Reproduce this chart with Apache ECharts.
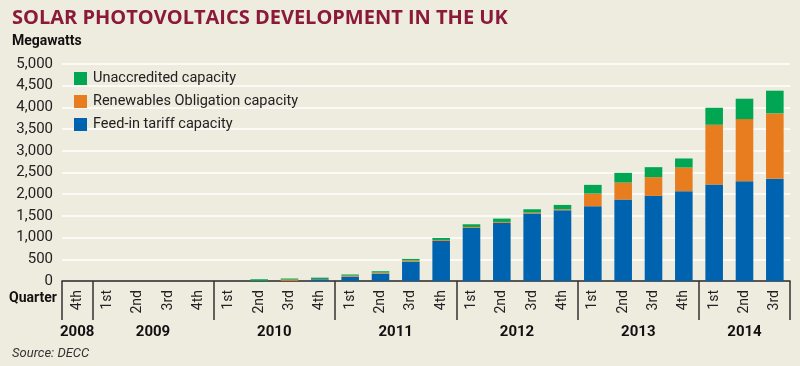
<!DOCTYPE html>
<html>
<head>
<meta charset="utf-8">
<script src="https://cdn.jsdelivr.net/npm/echarts@6/dist/echarts.min.js"></script>
<style>
html,body{margin:0;padding:0;background:#eeebdf;}
#c{width:800px;height:366px;}
</style>
</head>
<body>
<div id="c"></div>
<script>
// Quarter categories (2008 Q4 to 2014 Q3)
const quarterLabels = ['4th','1st','2nd','3rd','4th','1st','2nd','3rd','4th','1st','2nd','3rd','4th','1st','2nd','3rd','4th','1st','2nd','3rd','4th','1st','2nd','3rd'];
// Year groups: label and index of first quarter
const yearLabels = ['2008','2009','2010','2011','2012','2013','2014'];
const yearStartIndex = [0, 1, 5, 9, 13, 17, 21];
const yearLabelPos = [0.5, 3, 7, 11, 15, 19, 22.5];
// Megawatts
const feedInTariff = [0,0,0,0,0, 0,3,3,40, 100,170,445,923, 1223,1338,1553,1630, 1723,1877,1962,2069, 2223,2300,2354];
const renewablesObligation = [0,0,0,0,0, 0,2,30,7, 25,25,28,23, 23,23,24,23, 292,392,430,546, 1377,1430,1508];
const unaccredited = [0,0,0,0,0, 0,35,24,30, 25,30,35,46, 61,77,76,100, 200,223,231,208, 392,470,523];
const yTicks = {min:0, max:5000, interval:500};

const FONT = 'Roboto, "Noto Sans", sans-serif';
const chart = echarts.init(document.getElementById('c'), null, {renderer:'canvas'});
chart.setOption({
  backgroundColor:'#eeebdf',
  animation:false,
  textStyle:{fontFamily:FONT},
  grid:{left:62, right:10, top:64, bottom:85, containLabel:false},
  legend:{
    orient:'vertical', left:69, top:66, itemWidth:13, itemHeight:13, itemGap:8,
    icon:'rect',
    data:['Unaccredited capacity','Renewables Obligation capacity','Feed-in tariff capacity'],
    textStyle:{fontSize:14.5, color:'#222', fontFamily:FONT, padding:[0,0,0,1]}
  },
  xAxis:[{
    type:'category', data:quarterLabels, position:'bottom',
    axisLine:{lineStyle:{color:'#222', width:1.5}},
    axisTick:{show:true, length:39, interval:function(i){return yearStartIndex.indexOf(i) >= 0;}, lineStyle:{color:'#333', width:1.5}},
    axisLabel:{interval:0, rotate:90, margin:9, fontSize:14, color:'#222', fontFamily:FONT},
    splitLine:{show:false}
  },{
    type:'value', min:0, max:24, interval:0.5, position:'bottom',
    axisLine:{show:false}, axisTick:{show:false}, splitLine:{show:false},
    axisLabel:{margin:44, fontSize:15, fontWeight:'bold', color:'#111', fontFamily:FONT,
      formatter:function(v){const k = yearLabelPos.indexOf(v); return k>=0 ? yearLabels[k] : '';}}
  }],
  yAxis:{
    type:'value', min:yTicks.min, max:yTicks.max, interval:yTicks.interval,
    axisLine:{show:false}, axisTick:{show:false},
    axisLabel:{fontSize:15, color:'#222', margin:9, fontFamily:FONT},
    splitLine:{lineStyle:{color:'#ffffff', width:1.5}}
  },
  series:[
    {name:'Feed-in tariff capacity', type:'bar', stack:'t', data:feedInTariff, barWidth:'58%', itemStyle:{color:'#0063b0'}},
    {name:'Renewables Obligation capacity', type:'bar', stack:'t', data:renewablesObligation, barWidth:'58%', itemStyle:{color:'#e87d20'}},
    {name:'Unaccredited capacity', type:'bar', stack:'t', data:unaccredited, barWidth:'58%', itemStyle:{color:'#00a651'}}
  ],
  graphic:[
    {type:'text', left:12, top:8, style:{text:'SOLAR PHOTOVOLTAICS DEVELOPMENT IN THE UK', font:'bold 20px "Open Sans", sans-serif', fill:'#8b1a3a'}},
    {type:'text', left:12, top:34, style:{text:'Megawatts', font:'bold 14px '+FONT, fill:'#111'}},
    {type:'text', right:743, top:291, style:{text:'Quarter', font:'bold 14px '+FONT, fill:'#111'}},
    {type:'text', left:12, top:347, style:{text:'Source: DECC', font:'italic 13px '+FONT, fill:'#333'}}
  ]
});
</script>
</body>
</html>
